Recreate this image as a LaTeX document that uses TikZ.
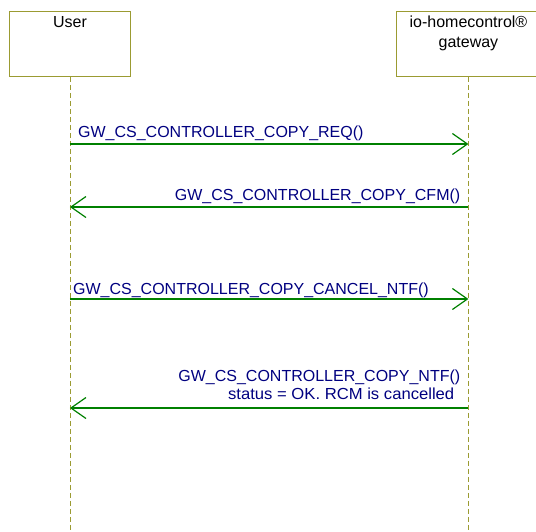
\documentclass[tikz,border=0pt]{standalone}
\usepackage{fontspec}
\setmainfont{Liberation Sans}
\usepackage{tikz}
\usetikzlibrary{positioning}
\usetikzlibrary{calc}
\usetikzlibrary{arrows.meta}

\definecolor{lifeolive}{RGB}{155,155,50}
\definecolor{msggreen}{RGB}{0,128,0}
\definecolor{msgnavy}{RGB}{0,0,128}

\tikzset{
    actor/.style={draw=lifeolive, fill=white, rectangle, line width=0.9pt, anchor=north west, inner sep=0pt},
    actortext/.style={anchor=base, inner sep=0pt, text=black},
    lifeline/.style={draw=lifeolive, line width=0.9pt, dash pattern=on 5pt off 3pt},
    msg/.style={draw=msggreen, line width=1.4pt, -{Straight Barb[length=15pt, width=21pt, line width=1.2pt]}},
    msgtext/.style={inner sep=0pt, text=msgnavy}
}

\begin{document}
\begin{tikzpicture} [x=1pt, y=-1pt, font=\fontsize{16pt}{19pt}\selectfont]
    \useasboundingbox (0,0) rectangle (536,531);
    % Sequence of messages between the user and the io-homecontrol gateway
    \node (User) [actor, minimum width=121pt, minimum height=65pt] at (9, 11) {};
    \node (GW) [actor, minimum width=144pt, minimum height=65pt] at (396, 11) {};
    \node (UserName) [actortext] at ($(User.north) + (0, 16)$) {User};
    \node (GWName) [actortext] at ($(GW.north) + (0, 16)$) {io-homecontrol®};
    \node (GWName2) [actortext] at ($(GW.north) + (0, 36)$) {gateway};

    \coordinate (UserEnd) at (User.south |- 0, 531);
    \coordinate (GWEnd) at (GW.south |- 0, 531);
    \draw[lifeline] (User.south) -- (UserEnd);
    \draw[lifeline] (GW.south) -- (GWEnd);

    % message end points on the lifelines
    \coordinate (u1) at (User.south |- 0, 144);
    \coordinate (g1) at (GW.south |- 0, 144);
    \coordinate (u2) at (User.south |- 0, 207);
    \coordinate (g2) at (GW.south |- 0, 207);
    \coordinate (u3) at (User.south |- 0, 299);
    \coordinate (g3) at (GW.south |- 0, 299);
    \coordinate (u4) at (User.south |- 0, 408);
    \coordinate (g4) at (GW.south |- 0, 408);

    \draw[msg] (u1) -- (g1);
    \draw[msg] (g2) -- (u2);
    \draw[msg] (u3) -- (g3);
    \draw[msg] (g4) -- (u4);

    \node (ReqText) [msgtext, anchor=base west] at ($(u1) + (8, -7)$) {GW\_CS\_CONTROLLER\_COPY\_REQ()};
    \node (CfmText) [msgtext, anchor=base east] at ($(g2) + (-8, -7)$) {GW\_CS\_CONTROLLER\_COPY\_CFM()};
    \node (CancelText) [msgtext, anchor=base west] at ($(u3) + (3, -5)$) {GW\_CS\_CONTROLLER\_COPY\_CANCEL\_NTF()};
    \node (NtfText) [msgtext, anchor=base east] at ($(g4) + (-8, -27)$) {GW\_CS\_CONTROLLER\_COPY\_NTF()};
    \node (NtfStatus) [msgtext, anchor=base east] at ($(g4) + (-14, -9)$) {\scalebox{1.04}[1]{status = OK. RCM is cancelled}};

\end{tikzpicture}
\end{document}
